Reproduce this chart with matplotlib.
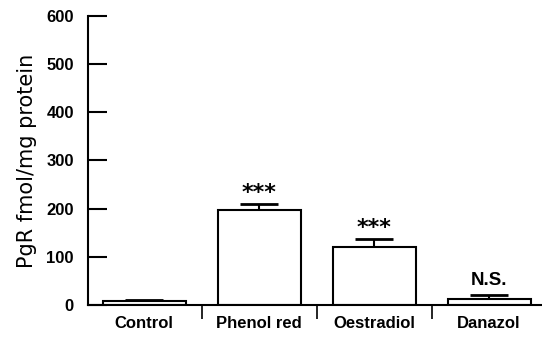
import matplotlib
matplotlib.use("Agg")
import matplotlib.pyplot as plt
import numpy as np

categories = ["Control", "Phenol red", "Oestradiol", "Danazol"]
pgr_mean = [7, 197, 120, 12]
pgr_sem = [4, 12, 17, 8]
signif = ["", "***", "***", "N.S."]

plt.rcParams["font.family"] = ["Liberation Sans", "DejaVu Sans"]

fig = plt.figure(figsize=(5.42, 3.41), dpi=100)
ax = fig.add_axes([0.162, 0.106, 0.838, 0.847])

x = np.arange(len(categories))
ax.bar(x, pgr_mean, width=0.72, color="white", edgecolor="black", linewidth=1.5, zorder=2)
ax.errorbar(x, pgr_mean, yerr=[np.zeros(len(x)), pgr_sem], fmt="none", ecolor="black",
            elinewidth=1.5, capsize=14, capthick=2, zorder=1)

for xi, m, e, s in zip(x, pgr_mean, pgr_sem, signif):
    if s == "***":
        ax.text(xi, m + e + 2, s, ha="center", va="bottom", fontsize=16, fontweight="bold",
                family="DejaVu Sans")
    elif s:
        ax.text(xi, m + e + 12, s, ha="center", va="bottom", fontsize=13.5, fontweight="bold")

ax.set_xlim(-0.49, 3.46)
ax.set_ylim(0, 600)
ax.set_yticks(range(0, 601, 100))
ax.tick_params(axis="y", direction="in", length=14, width=1.5, labelsize=12, pad=10)
for lab in ax.get_yticklabels():
    lab.set_fontweight("bold")

# separators between groups, names under bars
ax.set_xticks([0.5, 1.5, 2.5])
ax.set_xticklabels([])
ax.tick_params(axis="x", which="major", direction="out", length=10, width=1.2)
ax.set_xticks(x, minor=True)
ax.set_xticklabels(categories, minor=True, fontsize=12, fontweight="bold")
ax.tick_params(axis="x", which="minor", length=0, pad=8)

ax.set_ylabel("PgR fmol/mg protein", fontsize=15, family="DejaVu Sans", labelpad=7)

for side in ["top", "right"]:
    ax.spines[side].set_visible(False)
for side in ["left", "bottom"]:
    ax.spines[side].set_linewidth(1.5)

fig.savefig("out.png", dpi=100)
